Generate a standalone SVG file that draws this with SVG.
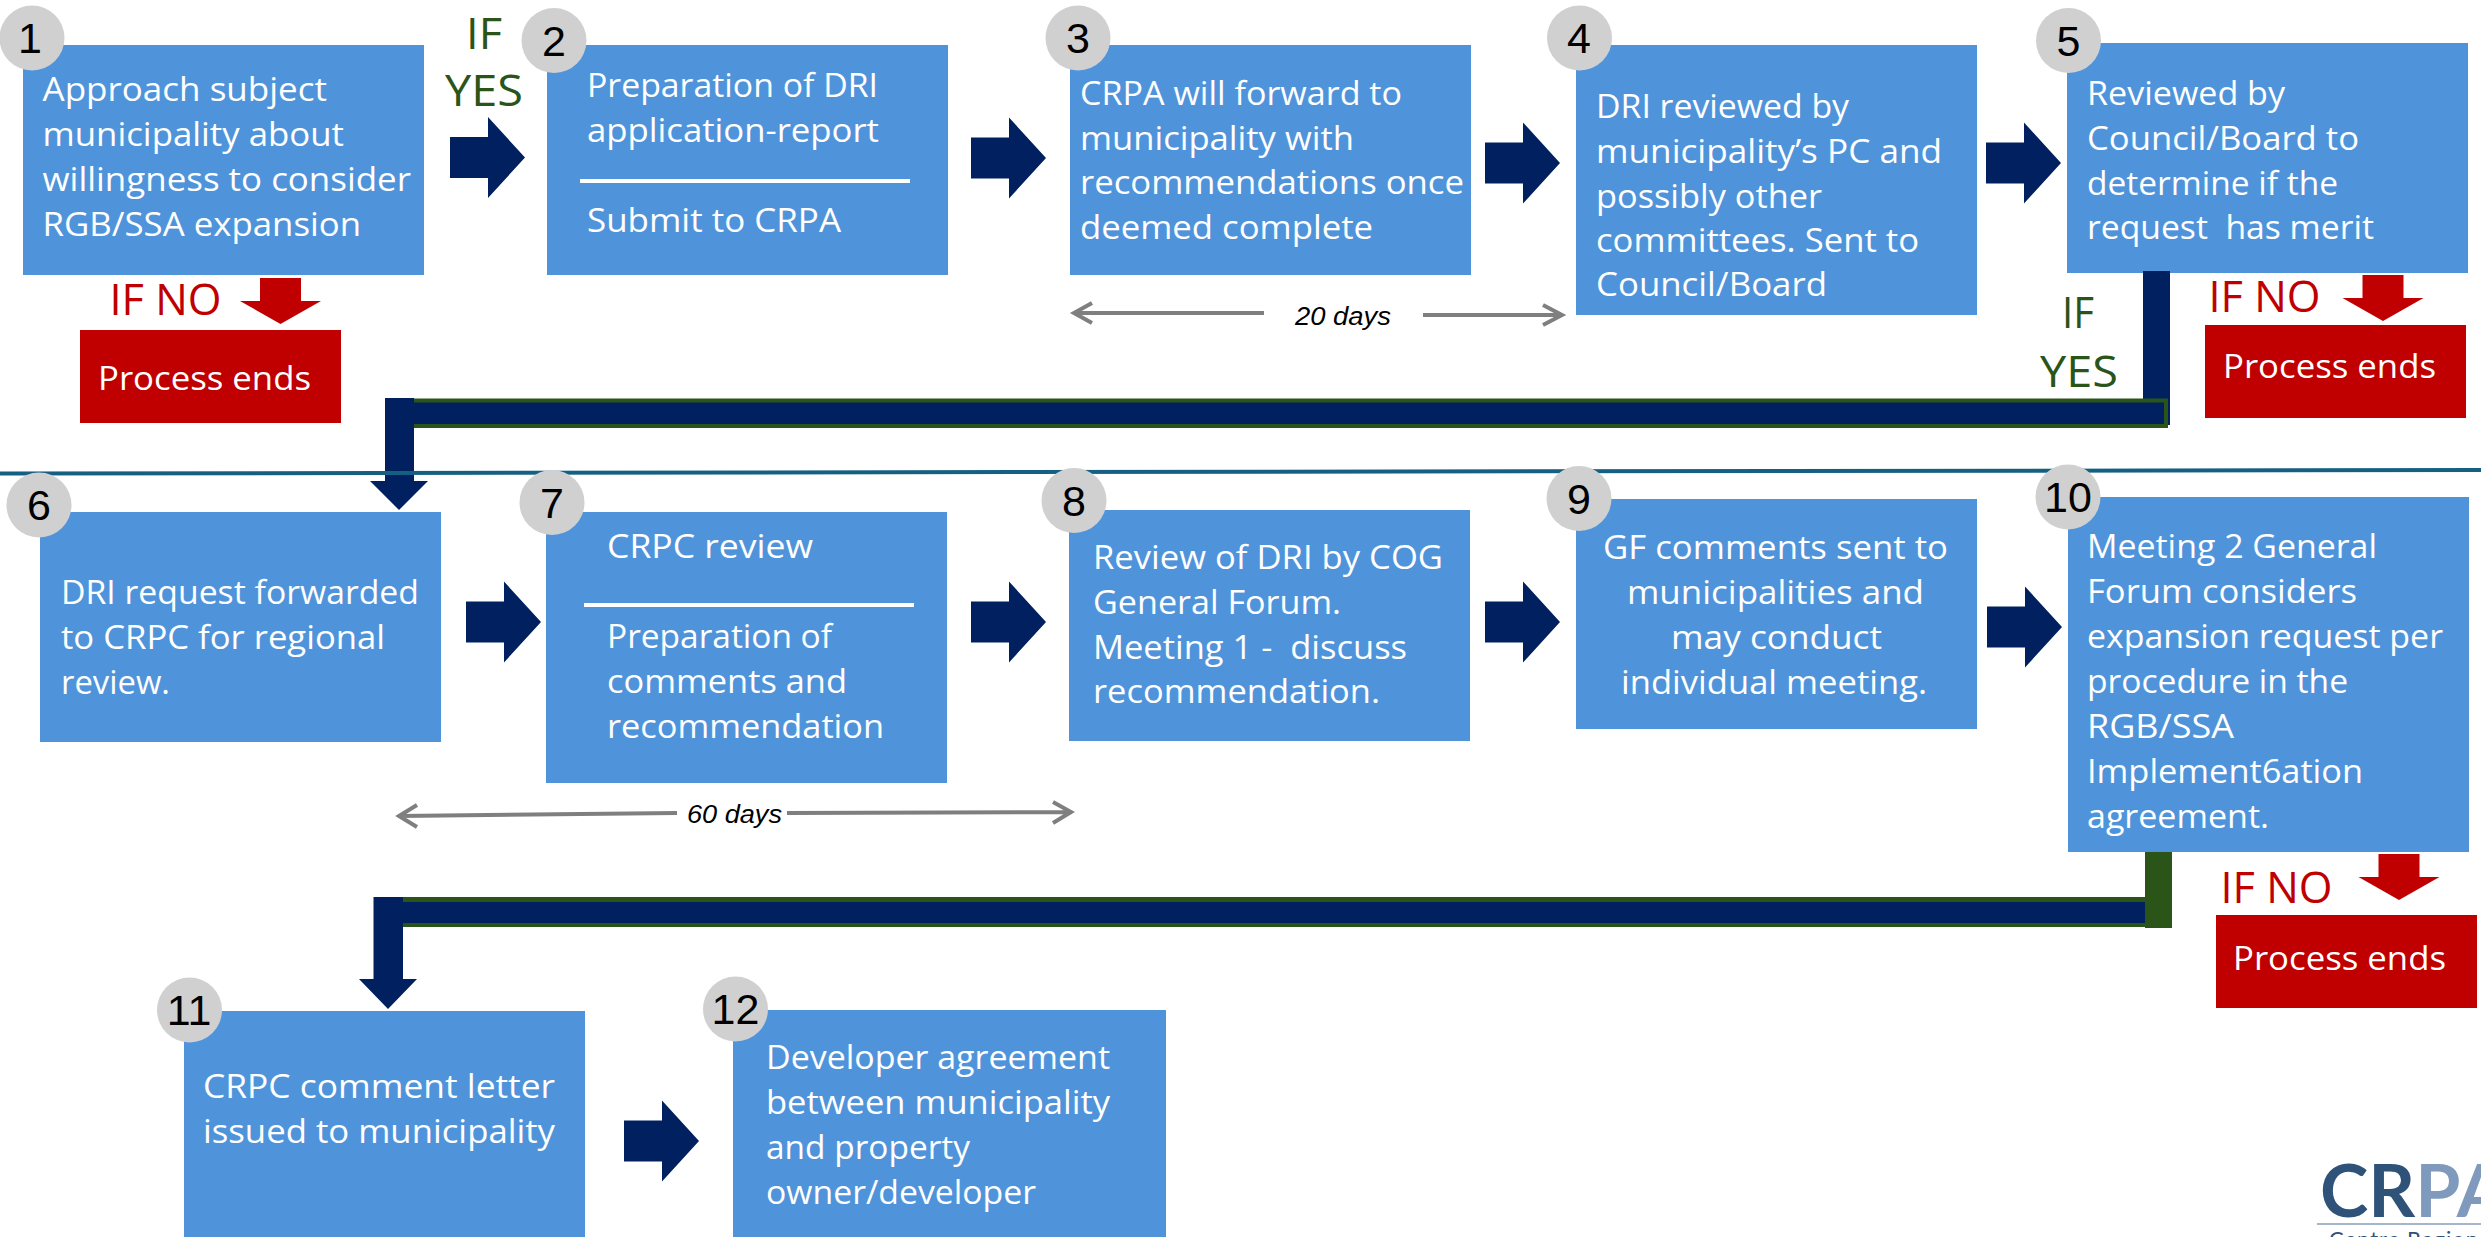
<svg xmlns="http://www.w3.org/2000/svg" width="2481" height="1237" viewBox="0 0 2481 1237">
<style>
text{white-space:pre}
.b{fill:#4F94DA}
.e{fill:#C00000}
.c{fill:#D0D0D0}
.n{font:43px "Liberation Sans",Arial,sans-serif;fill:#000;text-anchor:middle}
.t{font:32.5px "Open Sans","Noto Sans",sans-serif;fill:#fff;transform:translate(-1px,1px)}
.y{font:44px "Open Sans","Noto Sans",sans-serif;fill:#2B5418}
.o{font:44px "Open Sans","Noto Sans",sans-serif;fill:#C00000;transform:translate(-1.5px,0)}
.d{font:italic 26.5px "Liberation Sans",Arial,sans-serif;fill:#000}
.g{fill:none;stroke:#7F7F7F;stroke-width:4}
.w{fill:none;stroke:#fff;stroke-width:4}
.navy{fill:#002060}
.grn{fill:#2B5418}
</style>
<defs>
<polygon id="ar" class="navy" points="0,-20.5 38,-20.5 38,-40.5 75,0 38,40.5 38,20.5 0,20.5"/>
<polygon id="ad" class="e" points="-20.5,0 20.5,0 20.5,23 40.5,23 0,46 -40.5,23 -20.5,23"/>
</defs>
<g id="node-5">
<rect class="b" x="2067" y="43" width="401" height="230"/>
<circle class="c" cx="2068.5" cy="40.5" r="32.5"/>
<text class="n" x="2068.5" y="56">5</text>
<text class="t" x="2088" y="103.5" textLength="198" lengthAdjust="spacingAndGlyphs">Reviewed by</text>
<text class="t" x="2088" y="148.5" textLength="272" lengthAdjust="spacingAndGlyphs">Council/Board to</text>
<text class="t" x="2088" y="193.5" textLength="251" lengthAdjust="spacingAndGlyphs">determine if the</text>
<text class="t" x="2088" y="237.5" textLength="287" lengthAdjust="spacingAndGlyphs">request  has merit</text>
</g>
<g id="connectors">
<use href="#ar" x="450" y="157.5"/>
<use href="#ar" x="971" y="158"/>
<use href="#ar" x="1485" y="163"/>
<use href="#ar" x="1986" y="163"/>
<use href="#ar" x="466" y="622"/>
<use href="#ar" x="971" y="622"/>
<use href="#ar" x="1485" y="622"/>
<use href="#ar" x="1987" y="627"/>
<use href="#ar" x="624" y="1141"/>
<use href="#ad" x="280.5" y="278"/>
<use href="#ad" x="2383" y="275"/>
<use href="#ad" x="2399" y="854"/>
<rect class="navy" x="2143" y="271" width="27" height="154"/>
<rect class="navy" x="412" y="400.5" width="1754" height="25.5" stroke="#2B5418" stroke-width="4"/>
<polygon class="navy" points="385,398 414,398 414,481 428,481 399,510 370,481 385,481"/>
<rect class="grn" x="2145" y="852" width="27" height="76"/>
<rect class="grn" x="403" y="897" width="1742" height="30"/>
<rect class="navy" x="403" y="902" width="1742" height="21"/>
<polygon class="navy" points="373.5,897 403,897 403,979 417,979 388,1009 359,979 373.5,979"/>
<path class="g" d="M1264 313H1074M1092 303L1074 313L1092 323"/>
<path class="g" d="M1423 315H1562M1543 305L1562 315L1543 325"/>
<path class="g" d="M677 813L399 816M417 805L399 816L417 827"/>
<path class="g" d="M787 813L1071 812M1053 802L1071 812L1053 823"/>
</g>
<line id="divider" x1="0" y1="473.5" x2="2481" y2="470" stroke="#156082" stroke-width="4"/>
<g id="node-1">
<rect class="b" x="23" y="45" width="401" height="230"/>
<circle class="c" cx="32" cy="38" r="32.5"/>
<text class="n" x="30" y="53">1</text>
<text class="t" x="43.5" y="100" textLength="284.5" lengthAdjust="spacingAndGlyphs">Approach subject</text>
<text class="t" x="43.5" y="145" textLength="301.5" lengthAdjust="spacingAndGlyphs">municipality about</text>
<text class="t" x="43.5" y="190" textLength="368.5" lengthAdjust="spacingAndGlyphs">willingness to consider</text>
<text class="t" x="43.5" y="235" textLength="318.5" lengthAdjust="spacingAndGlyphs">RGB/SSA expansion</text>
</g>
<g id="node-2">
<rect class="b" x="547" y="45" width="401" height="230"/>
<circle class="c" cx="554" cy="40.5" r="32.5"/>
<text class="n" x="554" y="56">2</text>
<text class="t" x="588" y="96" textLength="291" lengthAdjust="spacingAndGlyphs">Preparation of DRI</text>
<text class="t" x="588" y="141" textLength="292" lengthAdjust="spacingAndGlyphs">application-report</text>
<line class="w" x1="580" y1="181" x2="910" y2="181"/>
<text class="t" x="588" y="231" textLength="254" lengthAdjust="spacingAndGlyphs">Submit to CRPA</text>
</g>
<g id="node-3">
<rect class="b" x="1070" y="45" width="401" height="230"/>
<circle class="c" cx="1078" cy="38" r="32.5"/>
<text class="n" x="1078" y="53">3</text>
<text class="t" x="1081" y="103.5" textLength="322" lengthAdjust="spacingAndGlyphs">CRPA will forward to</text>
<text class="t" x="1081" y="148.5" textLength="274" lengthAdjust="spacingAndGlyphs">municipality with</text>
<text class="t" x="1081" y="193" textLength="384" lengthAdjust="spacingAndGlyphs">recommendations once</text>
<text class="t" x="1081" y="237.5" textLength="293" lengthAdjust="spacingAndGlyphs">deemed complete</text>
</g>
<g id="node-4">
<rect class="b" x="1576" y="45" width="401" height="270"/>
<circle class="c" cx="1579.5" cy="38" r="32.5"/>
<text class="n" x="1579" y="53">4</text>
<text class="t" x="1597" y="116.5" textLength="253" lengthAdjust="spacingAndGlyphs">DRI reviewed by</text>
<text class="t" x="1597" y="161.5" textLength="346" lengthAdjust="spacingAndGlyphs">municipality’s PC and</text>
<text class="t" x="1597" y="206.5" textLength="226" lengthAdjust="spacingAndGlyphs">possibly other</text>
<text class="t" x="1597" y="251" textLength="323" lengthAdjust="spacingAndGlyphs">committees. Sent to</text>
<text class="t" x="1597" y="295" textLength="231" lengthAdjust="spacingAndGlyphs">Council/Board</text>
</g>
<g id="node-6">
<rect class="b" x="40" y="512" width="401" height="230"/>
<circle class="c" cx="39" cy="505" r="32.5"/>
<text class="n" x="39" y="520">6</text>
<text class="t" x="62" y="603" textLength="358" lengthAdjust="spacingAndGlyphs">DRI request forwarded</text>
<text class="t" x="62" y="648" textLength="324" lengthAdjust="spacingAndGlyphs">to CRPC for regional</text>
<text class="t" x="62" y="693" textLength="109" lengthAdjust="spacingAndGlyphs">review.</text>
</g>
<g id="node-7">
<rect class="b" x="546" y="512" width="401" height="271"/>
<circle class="c" cx="552" cy="502.5" r="32.5"/>
<text class="n" x="552" y="517.5">7</text>
<text class="t" x="608" y="557" textLength="206" lengthAdjust="spacingAndGlyphs">CRPC review</text>
<line class="w" x1="584" y1="605" x2="914" y2="605"/>
<text class="t" x="608" y="647" textLength="225" lengthAdjust="spacingAndGlyphs">Preparation of</text>
<text class="t" x="608" y="692" textLength="240" lengthAdjust="spacingAndGlyphs">comments and</text>
<text class="t" x="608" y="737" textLength="277" lengthAdjust="spacingAndGlyphs">recommendation</text>
</g>
<g id="node-8">
<rect class="b" x="1069" y="510" width="401" height="231"/>
<circle class="c" cx="1074" cy="500.5" r="32.5"/>
<text class="n" x="1074" y="515.5">8</text>
<text class="t" x="1094" y="568" textLength="350" lengthAdjust="spacingAndGlyphs">Review of DRI by COG</text>
<text class="t" x="1094" y="613" textLength="248" lengthAdjust="spacingAndGlyphs">General Forum.</text>
<text class="t" x="1094" y="658" textLength="314" lengthAdjust="spacingAndGlyphs">Meeting 1 -  discuss</text>
<text class="t" x="1094" y="702" textLength="287" lengthAdjust="spacingAndGlyphs">recommendation.</text>
</g>
<g id="node-9">
<rect class="b" x="1576" y="499" width="401" height="230"/>
<circle class="c" cx="1579" cy="498.5" r="32.5"/>
<text class="n" x="1579" y="513.5">9</text>
<text class="t" x="1604" y="558" textLength="345" lengthAdjust="spacingAndGlyphs">GF comments sent to</text>
<text class="t" x="1628" y="603" textLength="297" lengthAdjust="spacingAndGlyphs">municipalities and</text>
<text class="t" x="1672" y="648" textLength="211" lengthAdjust="spacingAndGlyphs">may conduct</text>
<text class="t" x="1622" y="693" textLength="306" lengthAdjust="spacingAndGlyphs">individual meeting.</text>
</g>
<g id="node-10">
<rect class="b" x="2068" y="497" width="401" height="355"/>
<circle class="c" cx="2068" cy="497" r="32.5"/>
<text class="n" x="2068" y="512">10</text>
<text class="t" x="2088" y="557" textLength="290" lengthAdjust="spacingAndGlyphs">Meeting 2 General</text>
<text class="t" x="2088" y="602" textLength="270" lengthAdjust="spacingAndGlyphs">Forum considers</text>
<text class="t" x="2088" y="647" textLength="356" lengthAdjust="spacingAndGlyphs">expansion request per</text>
<text class="t" x="2088" y="692" textLength="261" lengthAdjust="spacingAndGlyphs">procedure in the</text>
<text class="t" x="2088" y="736.5" textLength="147" lengthAdjust="spacingAndGlyphs">RGB/SSA</text>
<text class="t" x="2088" y="782" textLength="276" lengthAdjust="spacingAndGlyphs">Implement6ation</text>
<text class="t" x="2088" y="827" textLength="182" lengthAdjust="spacingAndGlyphs">agreement.</text>
</g>
<g id="node-11">
<rect class="b" x="184" y="1011" width="401" height="226"/>
<circle class="c" cx="189.5" cy="1010" r="32.5"/>
<text class="n" x="189" y="1025">11</text>
<text class="t" x="204" y="1097" textLength="352" lengthAdjust="spacingAndGlyphs">CRPC comment letter</text>
<text class="t" x="204" y="1142" textLength="352" lengthAdjust="spacingAndGlyphs">issued to municipality</text>
</g>
<g id="node-12">
<rect class="b" x="733" y="1010" width="433" height="227"/>
<circle class="c" cx="735.5" cy="1009" r="32.5"/>
<text class="n" x="735.5" y="1024">12</text>
<text class="t" x="767" y="1068" textLength="344" lengthAdjust="spacingAndGlyphs">Developer agreement</text>
<text class="t" x="767" y="1113" textLength="344" lengthAdjust="spacingAndGlyphs">between municipality</text>
<text class="t" x="767" y="1158" textLength="204" lengthAdjust="spacingAndGlyphs">and property</text>
<text class="t" x="767" y="1203" textLength="270" lengthAdjust="spacingAndGlyphs">owner/developer</text>
</g>
<g id="end-1">
<rect class="e" x="80" y="330" width="261" height="93"/>
<text class="t" x="99" y="389" textLength="213" lengthAdjust="spacingAndGlyphs">Process ends</text>
</g>
<g id="end-5">
<rect class="e" x="2205" y="325" width="261" height="93"/>
<text class="t" x="2224" y="377" textLength="213" lengthAdjust="spacingAndGlyphs">Process ends</text>
</g>
<g id="end-10">
<rect class="e" x="2216" y="915" width="261" height="93"/>
<text class="t" x="2234" y="969" textLength="213" lengthAdjust="spacingAndGlyphs">Process ends</text>
</g>
<g id="labels">
<text class="y" x="466" y="49" textLength="36" lengthAdjust="spacingAndGlyphs">IF</text>
<text class="y" x="445" y="106" textLength="78" lengthAdjust="spacingAndGlyphs">YES</text>
<text class="y" x="2062" y="328" textLength="32" lengthAdjust="spacingAndGlyphs">IF</text>
<text class="y" x="2040" y="387" textLength="78" lengthAdjust="spacingAndGlyphs">YES</text>
<text class="o" x="111" y="315" textLength="112" lengthAdjust="spacingAndGlyphs">IF NO</text>
<text class="o" x="2210" y="312" textLength="112" lengthAdjust="spacingAndGlyphs">IF NO</text>
<text class="o" x="2222" y="903" textLength="112" lengthAdjust="spacingAndGlyphs">IF NO</text>
<text class="d" x="1295" y="325" textLength="96" lengthAdjust="spacingAndGlyphs">20 days</text>
<text class="d" x="687" y="823" textLength="95" lengthAdjust="spacingAndGlyphs">60 days</text>
</g>
<g id="logo">
<text x="2320" y="1217" style="font:700 73px Lato,'Open Sans',sans-serif" fill="#2F5279">CR<tspan fill="#7F9ABD">PA</tspan></text>
<line x1="2317" y1="1224" x2="2481" y2="1224" stroke="#A5B5CA" stroke-width="2"/>
<text x="2329" y="1247" style="font:22px Lato,'Open Sans',sans-serif;letter-spacing:1px" fill="#2F5279">Centre Regiona</text>
</g>
</svg>
